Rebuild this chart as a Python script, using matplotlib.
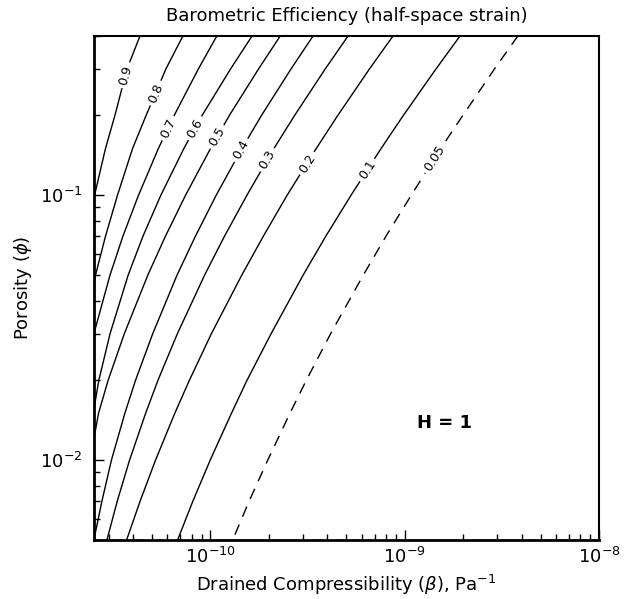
import numpy as np
import matplotlib
matplotlib.use("Agg")
import matplotlib.pyplot as plt
from matplotlib.ticker import NullFormatter, FixedLocator, LogLocator

plt.rcParams['font.family'] = ['DejaVu Sans']
plt.rcParams['mathtext.fontset'] = 'dejavusans'

nan = np.nan

phi = [0.4, 0.3, 0.2, 0.15, 0.1, 0.07, 0.05, 0.03, 0.02, 0.015, 0.01, 0.007, 0.005]

# drained compressibility (Pa^-1) along each barometric efficiency contour
beta_090 = [4.34e-11, 3.72e-11, 3.22e-11, 2.88e-11, 2.53e-11, 2.32e-11, nan, nan, nan, nan, nan, nan, nan]
beta_080 = [7.22e-11, 5.90e-11, 4.66e-11, 3.97e-11, 3.32e-11, 2.88e-11, 2.56e-11, 2.29e-11, nan, nan, nan, nan, nan]
beta_070 = [1.08e-10, 8.67e-11, 6.50e-11, 5.39e-11, 4.26e-11, 3.54e-11, 3.04e-11, 2.51e-11, 2.25e-11, nan, nan, nan, nan]
beta_060 = [1.64e-10, 1.27e-10, 9.05e-11, 7.29e-11, 5.55e-11, 4.49e-11, 3.77e-11, 3.04e-11, 2.66e-11, 2.49e-11, 2.35e-11, nan, nan]
beta_050 = [2.29e-10, 1.77e-10, 1.25e-10, 1.00e-10, 7.44e-11, 5.86e-11, 4.76e-11, 3.60e-11, 2.97e-11, 2.65e-11, 2.40e-11, 2.26e-11, nan]
beta_040 = [3.38e-10, 2.60e-10, 1.83e-10, 1.45e-10, 1.07e-10, 8.36e-11, 6.73e-11, 5.04e-11, 4.11e-11, 3.62e-11, 3.09e-11, 2.76e-11, 2.51e-11]
beta_030 = [5.12e-10, 3.90e-10, 2.71e-10, 2.12e-10, 1.54e-10, 1.18e-10, 9.33e-11, 6.75e-11, 5.36e-11, 4.63e-11, 3.83e-11, 3.31e-11, 2.93e-11]
beta_020 = [8.72e-10, 6.59e-10, 4.52e-10, 3.50e-10, 2.48e-10, 1.87e-10, 1.45e-10, 1.01e-10, 7.78e-11, 6.54e-11, 5.21e-11, 4.34e-11, 3.70e-11]
beta_010 = [1.93e-9, 1.45e-9, 9.83e-10, 7.55e-10, 5.29e-10, 3.92e-10, 3.00e-10, 2.05e-10, 1.54e-10, 1.28e-10, 9.96e-11, 8.11e-11, 6.77e-11]
beta_005 = [3.83e-9, 2.90e-9, 1.99e-9, 1.53e-9, 1.08e-9, 8.00e-10, 6.12e-10, 4.15e-10, 3.11e-10, 2.56e-10, 1.97e-10, 1.58e-10, 1.30e-10]

levels = ["0.9", "0.8", "0.7", "0.6", "0.5", "0.4", "0.3", "0.2", "0.1", "0.05"]
# porosity where the inline label of each contour sits
label_phi = [0.284, 0.243, 0.179, 0.179, 0.166, 0.148, 0.136, 0.132, 0.1245, 0.138]

curves = [beta_090, beta_080, beta_070, beta_060, beta_050,
          beta_040, beta_030, beta_020, beta_010, beta_005]

fig = plt.figure(figsize=(6.32, 5.99), dpi=100)
ax = fig.add_axes([0.148, 0.0985, 0.7998, 0.8419])
ax.set_xscale('log')
ax.set_yscale('log')
ax.set_xlim(2.5e-11, 1e-8)
ax.set_ylim(0.005, 0.4)

lp = np.log10(phi)
for lab, b, lphi in zip(levels, curves, label_phi):
    b = np.array(b)
    if lab == "0.05":
        ax.plot(b, phi, color='black', lw=1.0, dashes=(8, 6))
    else:
        ax.plot(b, phi, color='black', lw=1.0)
    ok = ~np.isnan(b)
    lb = np.log10(b[ok])
    pp = lp[ok]
    y0 = np.log10(lphi)
    x0 = np.interp(y0, pp[::-1], lb[::-1])
    xa = np.interp(y0 - 0.04, pp[::-1], lb[::-1])
    xb = np.interp(y0 + 0.04, pp[::-1], lb[::-1])
    p1 = ax.transData.transform((10**xa, 10**(y0 - 0.04)))
    p2 = ax.transData.transform((10**xb, 10**(y0 + 0.04)))
    ang = np.degrees(np.arctan2(p2[1] - p1[1], p2[0] - p1[0]))
    ax.text(10**x0, lphi, lab, rotation=ang, rotation_mode='anchor',
            ha='center', va='center', fontsize=9,
            bbox=dict(fc='white', ec='none', pad=2.5))

ax.text(1.6e-9, 0.0138, "H = 1", fontsize=13, fontweight='bold',
        ha='center', va='center')

for s in ['left', 'bottom']:
    ax.spines[s].set_linewidth(2.0)
for s in ['top', 'right']:
    ax.spines[s].set_linewidth(1.5)

ax.xaxis.set_major_locator(FixedLocator([1e-10, 1e-9, 1e-8]))
ax.yaxis.set_major_locator(FixedLocator([1e-2, 1e-1]))
ax.xaxis.set_minor_locator(LogLocator(base=10, subs=np.arange(2, 10)))
ax.yaxis.set_minor_locator(LogLocator(base=10, subs=np.arange(2, 10)))
ax.xaxis.set_minor_formatter(NullFormatter())
ax.yaxis.set_minor_formatter(NullFormatter())

ax.tick_params(which='both', direction='in', top=False, right=False)
ax.tick_params(which='major', length=7, width=1.0, labelsize=13)
ax.tick_params(axis='x', which='major', pad=5)
ax.tick_params(axis='y', which='major', pad=8)
ax.tick_params(which='minor', length=4, width=1.0)

ax.set_xlabel(r"Drained Compressibility ($\beta$), Pa$^{-1}$", fontsize=13, labelpad=4)
ax.set_ylabel(r"Porosity ($\phi$)", fontsize=13, labelpad=4)
fig.text(0.548, 0.973, "Barometric Efficiency (half-space strain)",
         fontsize=13, ha='center', va='center')

fig.savefig("out.png", dpi=100)
